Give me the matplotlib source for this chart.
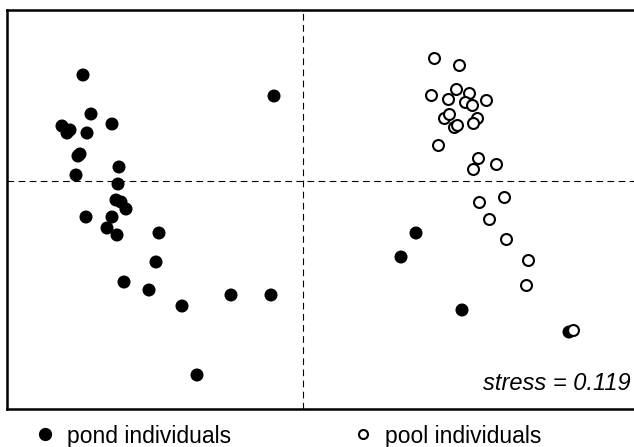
import matplotlib
matplotlib.use("Agg")
import matplotlib.pyplot as plt
from matplotlib.lines import Line2D

plt.rcParams['font.family'] = ['Liberation Sans', 'DejaVu Sans']

# NMDS scores
pond_x = [-2.20, -0.29, -2.12, -2.41, -2.33, -2.36, -2.16, -1.91, -2.23, -2.25,
          -1.84, -2.27, -1.85, -1.87, -1.82, -1.77, -2.17, -1.91, -1.96, -1.86,
          -1.44, -1.47, -1.79, -1.54, -1.21, -0.72, -0.32, -1.06,
          1.13, 0.98, 1.59, 2.66]
pond_y = [1.06, 0.85, 0.67, 0.55, 0.51, 0.48, 0.48, 0.57, 0.27, 0.25,
          0.14, 0.06, -0.03, -0.19, -0.21, -0.28, -0.36, -0.36, -0.47, -0.54,
          -0.52, -0.81, -1.01, -1.09, -1.25, -1.14, -1.14, -1.94,
          -0.52, -0.76, -1.29, -1.51]

pool_x = [1.31, 1.56, 1.28, 1.53, 1.66, 1.45, 1.62, 1.69, 1.83, 1.41,
          1.46, 1.51, 1.54, 1.74, 1.70, 1.35, 1.75, 1.70, 1.93, 2.01,
          1.76, 1.86, 2.03, 2.25, 2.23, 2.70]
pool_y = [1.23, 1.16, 0.86, 0.92, 0.88, 0.82, 0.79, 0.76, 0.81, 0.63,
          0.67, 0.54, 0.56, 0.63, 0.58, 0.36, 0.23, 0.12, 0.17, -0.16,
          -0.21, -0.38, -0.58, -0.79, -1.04, -1.49]

stress = 0.119

fig = plt.figure(figsize=(6.34, 4.47), dpi=100)
ax = fig.add_axes([7/634, 38/447, 628/634, 399/447])

ax.axvline(0, color='black', lw=0.8, ls=(0, (6, 4)), zorder=1)
ax.axhline(0, color='black', lw=0.8, ls=(0, (6, 4)), zorder=1)

ax.scatter(pond_x, pond_y, s=88, c='black', edgecolors='none', zorder=3)
ax.scatter(pool_x, pool_y, s=62, facecolors='white', edgecolors='black',
           linewidths=1.5, zorder=4)

ax.text(0.993, 0.035, 'stress = %.3f' % stress, transform=ax.transAxes,
        ha='right', va='bottom', fontsize=17, style='italic')

ax.set_xlim(-2.96, 3.32)
ax.set_ylim(-2.28, 1.71)
ax.set_xticks([])
ax.set_yticks([])
for sp in ax.spines.values():
    sp.set_linewidth(1.8)
ax.spines['right'].set_visible(False)

handles = [
    Line2D([], [], ls='none', marker='o', ms=8.5, mfc='black', mec='black'),
    Line2D([], [], ls='none', marker='o', ms=6.5, mfc='white', mec='black', mew=1.5),
]
fig.legend(handles, ['pond individuals', 'pool individuals'], ncol=2,
           loc='center left', bbox_to_anchor=(33.5/634, 1 - 436/447),
           frameon=False, fontsize=16.5, handlelength=1.0, handletextpad=0.46,
           columnspacing=5.26, borderpad=0, borderaxespad=0)

fig.savefig('out.png', dpi=100)
